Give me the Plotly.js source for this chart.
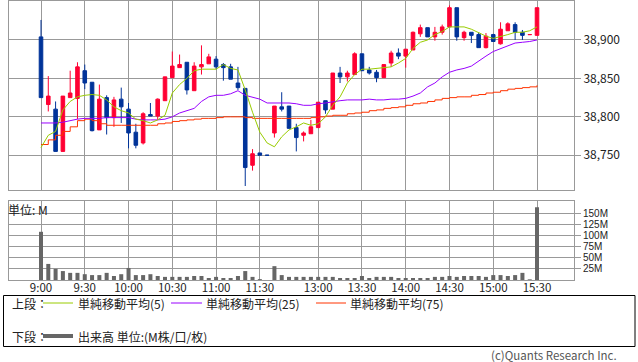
<!DOCTYPE html>
<html>
<head>
<meta charset="utf-8">
<script src="https://cdn.plot.ly/plotly-3.0.1.min.js"></script>
<style>html,body{margin:0;padding:0;background:#fff;}#chart{width:638px;height:362px;}</style>
</head>
<body>
<div id="chart"></div>
<script>
// 5-minute slots (morning, one empty slot, afternoon)
var times = ["9:00","9:05","9:10","9:15","9:20","9:25","9:30","9:35","9:40","9:45","9:50","9:55",
"10:00","10:05","10:10","10:15","10:20","10:25","10:30","10:35","10:40","10:45","10:50","10:55",
"11:00","11:05","11:10","11:15","11:20","11:25","11:30","11:35",
"12:30","12:35","12:40","12:45","12:50","12:55",
"13:00","13:05","13:10","13:15","13:20","13:25","13:30","13:35","13:40","13:45","13:50","13:55",
"14:00","14:05","14:10","14:15","14:20","14:25","14:30","14:35","14:40","14:45","14:50","14:55",
"15:00","15:05","15:10","15:15","15:20","15:25","15:30"];

var openP  = [38904,38816,38810,38755,38825,38824,38860,38845,38783,38825,38799,38823,38810,38780,38766,38803,38801,38821,38851,38864,38871,38834,38865,38869,38875,38868,38865,38844,38837,38737,38753,38750,
38779,38813,38814,38786,38776,38778,38786,38821,38810,38857,38852,38855,38882,38861,38858,38851,38870,38883,38879,38887,38908,38916,38904,38910,38917,38942,38903,38910,38907,38890,38907,38895,38912,38920,38910,38907,38906];
var highP  = [38926,38853,38820,38827,38860,38871,38868,38845,38842,38828,38826,38838,38818,38791,38806,38818,38824,38852,38885,38881,38871,38871,38893,38882,38879,38870,38869,38865,38837,38758,38753,38750,
38814,38832,38814,38791,38781,38796,38819,38821,38857,38865,38860,38884,38882,38865,38861,38868,38886,38889,38888,38911,38920,38916,38917,38920,38945,38942,38912,38910,38910,38909,38908,38923,38923,38923,38913,38907,38942];
var lowP   = [38825,38807,38755,38755,38825,38797,38836,38781,38783,38777,38787,38792,38759,38759,38764,38801,38796,38821,38851,38864,38829,38834,38855,38869,38862,38847,38849,38835,38710,38730,38750,38750,
38773,38807,38785,38755,38768,38778,38786,38804,38810,38844,38846,38855,38860,38855,38845,38851,38865,38875,38864,38887,38904,38904,38899,38907,38917,38899,38899,38896,38890,38889,38898,38894,38912,38900,38900,38907,38906];
var closeP = [38825,38827,38755,38827,38831,38865,38844,38782,38823,38799,38822,38813,38779,38763,38804,38801,38823,38852,38866,38868,38835,38866,38868,38878,38865,38864,38849,38838,38734,38752,38750,38750,
38814,38810,38785,38773,38779,38787,38819,38809,38857,38852,38857,38882,38860,38857,38851,38868,38883,38879,38888,38910,38916,38904,38910,38917,38942,38904,38910,38906,38890,38905,38898,38914,38921,38910,38906,38907,38942];

var ma5  = [38760,38776,38781,38809,38820,38826,38828,38829,38828,38822,38813,38808,38805,38797,38795,38792,38796,38802,38831,38842,38850,38860,38862,38862,38862,38868,38863,38861,38835,38806,38780,38766,
38761,38774,38783,38787,38792,38789,38791,38800,38815,38826,38844,38855,38862,38862,38863,38864,38865,38870,38876,38889,38897,38900,38907,38911,38917,38917,38917,38914,38909,38905,38902,38904,38907,38910,38910,38912,38917];
var ma25 = [38792,38792,38792,38793,38795,38797,38798,38798,38798,38799,38799,38799,38799,38797,38796,38796,38796,38797,38800,38805,38808,38811,38820,38826,38828,38828,38830,38834,38828,38826,38823,38818,
38818,38818,38818,38817,38815,38815,38817,38818,38820,38821,38822,38822,38822,38823,38822,38822,38823,38823,38824,38827,38831,38839,38844,38852,38858,38861,38863,38866,38873,38879,38885,38889,38892,38896,38897,38898,38900];
var ma75 = [38764,38770,38776,38781,38787,38795,38797,38795,38791,38789,38789,38789,38789,38789,38789,38789,38791,38792,38794,38795,38796,38797,38798,38798,38799,38800,38800,38800,38799,38798,38798,38798,
38798,38798,38798,38798,38798,38799,38800,38801,38802,38802,38804,38805,38806,38808,38809,38811,38812,38813,38815,38817,38818,38820,38822,38824,38825,38826,38826,38828,38829,38831,38832,38834,38836,38837,38838,38839,38841];

var volume = [108,36,25,20,16,16,13,11,11,16,9,13,27,11,11,13,9,7,7,7,7,9,9,4.5,7,4.5,4.5,9,20,7,2,0,
31,11,7,7,7,7,7,7,7,4.5,4.5,4.5,9,4.5,7,7,7,4.5,4.5,4.5,4.5,4.5,7,7,9,7,9,9,9,7,11,11,9,11,16,1.5,163];

var timeTicks = ["9:00","9:30","10:00","10:30","11:00","11:30","13:00","13:30","14:00","14:30","15:00","15:30"];
var priceTicks = [38750,38800,38850,38900];
var volTicks = [25,50,75,100,125,150];
var volTickText = ["25M","50M","75M","100M","125M","150M"];

var legendHead = ["上段：","下段："];
var maNames = ["単純移動平均(5)","単純移動平均(25)","単純移動平均(75)"];
var volName = "出来高 単位:(M株/口/枚)";
var volUnit = "単位: M";
var credit = "(c)Quants Research Inc.";

var W = 638, H = 362;
function px(X){ return X / W; }
function py(Y){ return 1 - Y / H; }

var C5 = "#99cc00", C25 = "#9900ff", C75 = "#ff3300";
var UP = "#ff0033", DN = "#003399", VOL = "#666666", GRID = "#999999";
var FONT = "Noto Sans CJK JP, Noto Sans, sans-serif";
var NUMFONT = "Liberation Sans, Arial, sans-serif";

var traces = [
  {type:"candlestick", x:times, open:openP, high:highP, low:lowP, close:closeP,
   xaxis:"x", yaxis:"y",
   increasing:{line:{color:UP, width:1}, fillcolor:UP},
   decreasing:{line:{color:DN, width:1}, fillcolor:DN},
   whiskerwidth:0, hoverinfo:"skip"},
  {type:"scatter", mode:"lines", x:times, y:ma75, xaxis:"x", yaxis:"y", line:{color:C75, width:1, shape:"hv"}, hoverinfo:"skip"},
  {type:"scatter", mode:"lines", x:times, y:ma25, xaxis:"x", yaxis:"y", line:{color:C25, width:1}, hoverinfo:"skip"},
  {type:"scatter", mode:"lines", x:times, y:ma5, xaxis:"x", yaxis:"y", line:{color:C5, width:1}, hoverinfo:"skip"},
  {type:"bar", x:times, y:volume, xaxis:"x", yaxis:"y2", marker:{color:VOL, line:{width:0}}, hoverinfo:"skip"}
];

var shapes = [
  {type:"rect", xref:"paper", yref:"paper", x0:px(3.5), x1:px(635), y0:py(295.5), y1:py(346.5), line:{color:"#000", width:1}},
  {type:"line", xref:"paper", yref:"paper", x0:px(43), x1:px(73), y0:py(303), y1:py(303), line:{color:C5, width:1}},
  {type:"line", xref:"paper", yref:"paper", x0:px(171), x1:px(202), y0:py(303), y1:py(303), line:{color:C25, width:1}},
  {type:"line", xref:"paper", yref:"paper", x0:px(316), x1:px(346), y0:py(303), y1:py(303), line:{color:C75, width:1}},
  {type:"line", xref:"paper", yref:"paper", x0:px(43), x1:px(73), y0:py(336), y1:py(336), line:{color:VOL, width:4}}
];

function note(text, X, Y, anchor, size, color){
  return {text:text, xref:"paper", yref:"paper", x:px(X), y:py(Y), xanchor:anchor||"left", yanchor:"middle",
          showarrow:false, font:{family:FONT, size:size||12, color:color||"#222"}};
}
var annotations = [
  note(legendHead[0], 10, 303),
  note(maNames[0], 76, 303),
  note(maNames[1], 204, 303),
  note(maNames[2], 348, 303),
  note(legendHead[1], 10, 336),
  note(volName, 76, 336),
  note(credit, 619, 355, "right", 11.5, "#555"),
  note(volUnit, 6, 209)
];

var layout = {
  width:W, height:H, margin:{l:0, r:0, t:0, b:0},
  paper_bgcolor:"#fff", plot_bgcolor:"#fff",
  showlegend:false, hovermode:false, bargap:0.45,
  font:{family:FONT, size:12, color:"#222"},
  xaxis:{type:"category", categoryorder:"array", categoryarray:times,
         range:[-4.387, 73.07], domain:[px(9), px(574)], anchor:"y2",
         tickmode:"array", tickvals:timeTicks, ticktext:timeTicks,
         showgrid:true, gridcolor:GRID, gridwidth:1, showline:true, linecolor:GRID, linewidth:1, mirror:"all",
         ticks:"", ticklabelstandoff:-3, tickfont:{family:FONT, size:11.5, color:"#222"},
         rangeslider:{visible:false}, fixedrange:true},
  yaxis:{domain:[py(190), py(1)], anchor:"x", side:"right",
         range:[38704.8, 38950.7], tickmode:"array", tickvals:priceTicks, tickformat:",d",
         showgrid:true, gridcolor:GRID, gridwidth:1, zeroline:false,
         showline:true, linecolor:GRID, linewidth:1, mirror:true,
         ticks:"outside", ticklen:6, tickcolor:GRID, tickwidth:1,
         tickfont:{family:FONT, size:12, color:"#222"}, fixedrange:true},
  yaxis2:{domain:[py(280), py(201)], anchor:"x", side:"right",
         range:[0, 177], tickmode:"array", tickvals:volTicks, ticktext:volTickText,
         showgrid:true, gridcolor:GRID, gridwidth:1, zeroline:false,
         showline:true, linecolor:GRID, linewidth:1, mirror:true,
         ticks:"outside", ticklen:6, tickcolor:GRID, tickwidth:1,
         tickfont:{family:NUMFONT, size:10, color:"#222"}, fixedrange:true},
  shapes:shapes, annotations:annotations
};

Plotly.newPlot("chart", traces, layout, {staticPlot:true, displayModeBar:false});
</script>
</body>
</html>
